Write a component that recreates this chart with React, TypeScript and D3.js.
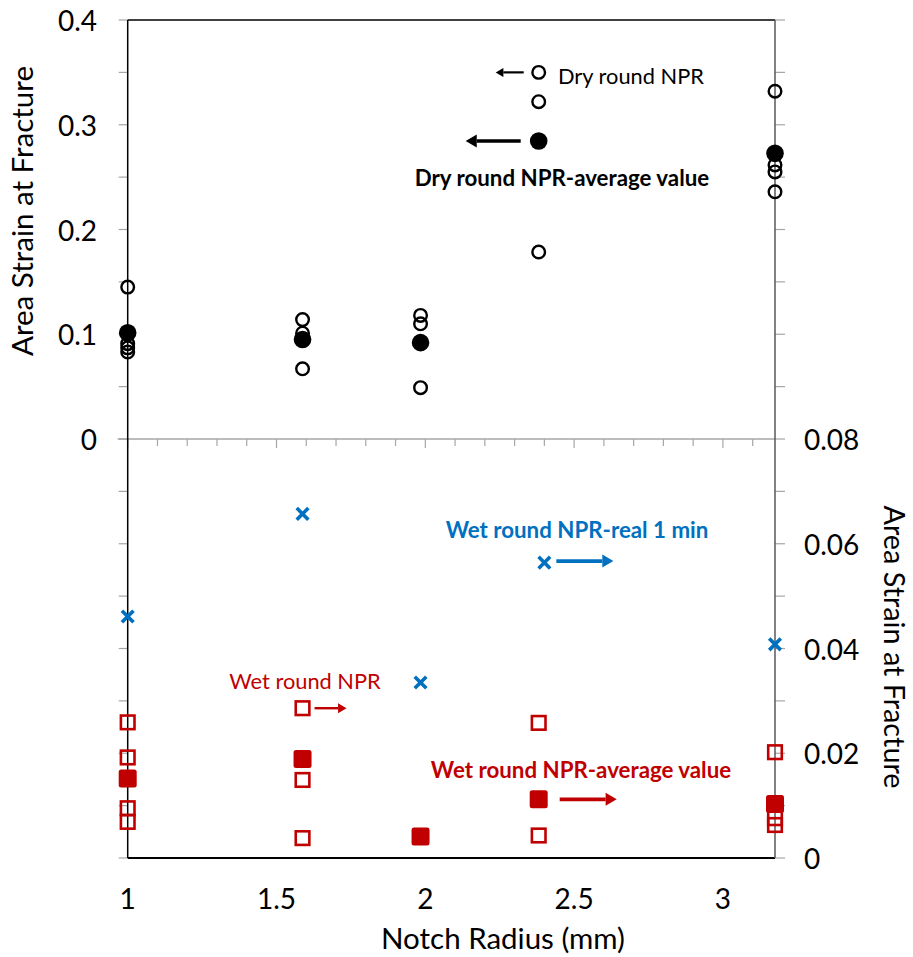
import React from "react";
import * as d3 from "d3";

// Notch radius (mm) of each specimen group
const radii = [1.0, 1.5875, 1.984, 2.381, 3.175];

// Dry round NPR: individual specimens (left axis)
const dryX = [1.0, 1.0, 1.0, 1.0, 1.5875, 1.5875, 1.5875, 1.984, 1.984, 1.984, 2.381, 2.381, 2.381, 3.175, 3.175, 3.175, 3.175];
const dryY = [0.145, 0.091, 0.087, 0.083, 0.114, 0.101, 0.067, 0.118, 0.110, 0.049, 0.350, 0.322, 0.1785, 0.332, 0.2616, 0.255, 0.236];
// Dry round NPR: average per radius (left axis)
const dryAvg = [0.1015, 0.095, 0.092, 0.2845, 0.2727];

// Wet round NPR: individual specimens (right axis)
const wetX = [1.0, 1.0, 1.0, 1.0, 1.5875, 1.5875, 1.5875, 1.984, 2.381, 2.381, 3.175, 3.175, 3.175];
const wetY = [0.0259, 0.0192, 0.0095, 0.0069, 0.0286, 0.0149, 0.0038, 0.0041, 0.0258, 0.0043, 0.0202, 0.0076, 0.0063];
// Wet round NPR: average per radius (right axis)
const wetAvg = [0.0152, 0.0189, 0.0041, 0.0112, 0.0103];

// Wet round NPR-real 1 min (right axis)
const realX = [1.0, 1.5875, 1.984, 2.4, 3.175];
const realY = [0.0461, 0.0657, 0.0335, 0.0564, 0.0408];

const leftTickLabels = [0, 0.1, 0.2, 0.3, 0.4];
const rightTickLabels = [0, 0.02, 0.04, 0.06, 0.08];
const xTickLabels = [1, 1.5, 2, 2.5, 3];

const W = 913;
const H = 957;
const FONT = "Lato, 'Open Sans', sans-serif";
const RED = "#C00000";
const BLUE = "#0070C0";
const TICK_FS = 28;
const TITLE_FS = 29.5;
const NOTE_FS = 21.8;
const NOTE_BOLD_FS = 22.3;

const x = d3.scaleLinear().domain([1, 3.175]).range([127.7, 775]);
const yL = d3.scaleLinear().domain([-0.4, 0.4]).range([858, 20]);
const yR = d3.scaleLinear().domain([0, 0.16]).range([858, 20]);

function Arrow({ x1, x2, y, w, head, color }: { x1: number; x2: number; y: number; w: number; head: number; color: string }) {
  const dir = x2 > x1 ? 1 : -1;
  const hl = head * 1.7;
  const base = x2 - dir * hl;
  return (
    <g>
      <line x1={x1} x2={base} y1={y} y2={y} stroke={color} strokeWidth={w} />
      <path d={`M${x2},${y} L${base},${y - head} L${base},${y + head} Z`} fill={color} />
    </g>
  );
}

export default function App() {
  const leftMinor = d3.range(-0.4, 0.4001, 0.05);
  const rightMinor = d3.range(0, 0.1601, 0.01);
  const xMinor = d3.range(1.0, 3.1501, 0.1);
  const fmt = (v: number) => (v === 0 ? "0" : String(+v.toFixed(2)));

  const crossPath = (s: number) => `M${-s},${-s}L${s},${s}M${-s},${s}L${s},${-s}`;

  return (
    <svg width={W} height={H} style={{ display: "block", position: "absolute", left: 0, top: 0, background: "#fff" }} fontFamily={FONT}>
      <rect width={W} height={H} fill="#fff" />

      {/* frame lines */}
      <line x1={x(1)} x2={x(3.175)} y1={yL(0.4)} y2={yL(0.4)} stroke="#000" strokeWidth={1.5} />
      <line x1={x(1)} x2={x(3.175)} y1={yL(-0.4)} y2={yL(-0.4)} stroke="#000" strokeWidth={1.8} />

      {/* horizontal axis at zero of the left axis */}
      <line x1={x(1) - 10} x2={x(3.175)} y1={yL(0)} y2={yL(0)} stroke="#a6a6a6" strokeWidth={1.5} />
      {xMinor.map((v, i) => (
        <line key={i} x1={x(v)} x2={x(v)} y1={yL(0)} y2={yL(0) + (i % 5 === 0 ? 9 : 7)} stroke="#a6a6a6" strokeWidth={1.2} />
      ))}

      {/* left axis */}
      {leftMinor.map((v, i) => (
        <line key={i} x1={x(1) - 9} x2={x(1)} y1={yL(v)} y2={yL(v)} stroke="#a6a6a6" strokeWidth={1.2} />
      ))}
      <line x1={x(1)} x2={x(1)} y1={yL(0.4)} y2={yL(-0.4)} stroke="#000" strokeWidth={1.5} />
      {leftTickLabels.map((v) => (
        <text key={v} x={97} y={yL(v)} textAnchor="end" dominantBaseline="central" fontSize={TICK_FS} fill="#000">
          {fmt(v)}
        </text>
      ))}

      {/* right axis */}
      {rightMinor.map((v, i) => (
        <line key={i} x1={x(3.175)} x2={x(3.175) + 10} y1={yR(v)} y2={yR(v)} stroke="#a6a6a6" strokeWidth={1.2} />
      ))}
      <line x1={x(3.175)} x2={x(3.175)} y1={yR(0.16)} y2={yR(0)} stroke="#595959" strokeWidth={1.5} />
      {rightTickLabels.map((v) => (
        <text key={v} x={804} y={yR(v)} textAnchor="start" dominantBaseline="central" fontSize={TICK_FS} fill="#000">
          {fmt(v)}
        </text>
      ))}

      {/* x tick labels */}
      {xTickLabels.map((v) => (
        <text key={v} x={x(v)} y={898} textAnchor="middle" dominantBaseline="central" fontSize={TICK_FS} fill="#000">
          {v}
        </text>
      ))}

      {/* axis titles */}
      <text transform={`translate(33,211) rotate(-90)`} textAnchor="middle" fontSize={TITLE_FS} fill="#000">
        Area Strain at Fracture
      </text>
      <text transform={`translate(884,647) rotate(90)`} textAnchor="middle" fontSize={28.8} fill="#000">
        Area Strain at Fracture
      </text>
      <text x={503} y={937} textAnchor="middle" dominantBaseline="central" fontSize={TITLE_FS} fill="#000">
        Notch Radius (mm)
      </text>

      {/* dry specimens */}
      {dryX.map((v, i) => (
        <circle key={i} cx={x(v)} cy={yL(dryY[i])} r={6.3} fill="none" stroke="#000" strokeWidth={2.4} />
      ))}
      {radii.map((v, i) => (
        <circle key={i} cx={x(v)} cy={yL(dryAvg[i])} r={8.8} fill="#000" />
      ))}

      {/* wet specimens */}
      {wetX.map((v, i) => (
        <rect key={i} x={x(v) - 6.8} y={yR(wetY[i]) - 6.8} width={13.6} height={13.6} fill="none" stroke={RED} strokeWidth={2.6} />
      ))}
      {radii.map((v, i) => (
        <rect key={i} x={x(v) - 9} y={yR(wetAvg[i]) - 9} width={18} height={18} rx={2.5} fill={RED} />
      ))}

      {/* wet, real 1 min */}
      {realX.map((v, i) => (
        <path key={i} transform={`translate(${x(v)},${yR(realY[i])})`} d={crossPath(5.8)} stroke={BLUE} strokeWidth={3.6} fill="none" />
      ))}

      {/* annotations */}
      <Arrow x1={x(2.381) - 15} x2={x(2.381) - 43} y={yL(0.35)} w={2.2} head={4.5} color="#000" />
      <text x={558} y={75} dominantBaseline="central" fontSize={NOTE_FS} fill="#000">Dry round NPR</text>

      <Arrow x1={x(2.381) - 18} x2={x(2.381) - 73} y={yL(dryAvg[3])} w={3.6} head={6.5} color="#000" />
      <text x={562} y={177} textAnchor="middle" dominantBaseline="central" fontSize={NOTE_BOLD_FS} fontWeight="bold" fill="#000">
        Dry round NPR-average value
      </text>

      <text x={577} y={529} textAnchor="middle" dominantBaseline="central" fontSize={NOTE_BOLD_FS} fontWeight="bold" fill={BLUE}>
        Wet round NPR-real 1 min
      </text>
      <Arrow x1={x(2.4) + 12} x2={x(2.4) + 69} y={yR(realY[3]) - 1.5} w={3.6} head={6.5} color={BLUE} />

      <text x={305} y={680} textAnchor="middle" dominantBaseline="central" fontSize={NOTE_FS} fill={RED}>
        Wet round NPR
      </text>
      <Arrow x1={x(1.5875) + 12} x2={x(1.5875) + 44} y={yR(wetY[4])} w={2.4} head={5} color={RED} />

      <text x={581} y={769} textAnchor="middle" dominantBaseline="central" fontSize={NOTE_BOLD_FS} fontWeight="bold" fill={RED}>
        Wet round NPR-average value
      </text>
      <Arrow x1={x(2.381) + 21} x2={x(2.381) + 78} y={yR(wetAvg[3])} w={3.6} head={6.5} color={RED} />
    </svg>
  );
}
